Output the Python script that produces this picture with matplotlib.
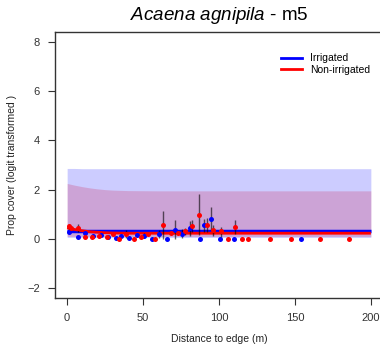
import numpy as np
import matplotlib
matplotlib.use("Agg")
import matplotlib.pyplot as plt

plt.rcParams["font.family"] = ["Liberation Sans", "DejaVu Sans"]
plt.rcParams["mathtext.fontset"] = "custom"
plt.rcParams["mathtext.it"] = "Liberation Sans:italic"
plt.rcParams["mathtext.rm"] = "Liberation Sans"

# observed means (Irrigated)
irr_x = [1.5, 7, 12, 17, 22, 27, 32, 35.6, 41, 45.7, 50.6, 55.8, 60.7, 65.8,
         70.9, 75.8, 80.8, 87.2, 90.4, 95, 100.7, 109.6, 153.7]
irr_y = [0.30, 0.08, 0.24, 0.12, 0.16, 0.08, 0.02, 0.10, 0.04, 0.16, 0.13, 0.0,
         0.20, 0.0, 0.38, 0.20, 0.46, 0.0, 0.56, 0.82, 0.0, 0.0, 0.0]
irr_lo = [0.20, 0.08, 0.24, 0.12, 0.16, 0.08, 0.02, 0.10, 0.04, 0.16, 0.05, 0.0,
          0.05, 0.0, 0.0, 0.05, 0.10, 0.0, 0.30, 0.35, 0.0, 0.0, 0.0]
irr_hi = [0.45, 0.08, 0.24, 0.12, 0.16, 0.08, 0.02, 0.10, 0.04, 0.16, 0.22, 0.0,
          0.35, 0.0, 0.77, 0.40, 0.74, 0.0, 0.82, 1.30, 0.0, 0.0, 0.0]

# observed means (Non-irrigated)
non_x = [1, 2.5, 7, 11.7, 16.5, 21.3, 26, 30.4, 34, 39, 44.2, 48.8, 53.2, 58,
         63.2, 68.7, 72.7, 77.6, 82.4, 86.5, 92.2, 96.3, 101, 105.6, 110.6,
         114.9, 119.3, 133.4, 147.7, 166.6, 185.6]
non_y = [0.52, 0.46, 0.43, 0.08, 0.08, 0.12, 0.08, 0.20, 0.0, 0.20, 0.0, 0.08,
         0.20, 0.0, 0.56, 0.24, 0.24, 0.32, 0.51, 0.99, 0.56, 0.36, 0.32, 0.0,
         0.49, 0.0, 0.0, 0.0, 0.0, 0.0, 0.0]
non_lo = [0.40, 0.46, 0.30, 0.08, 0.08, 0.12, 0.08, 0.20, 0.0, 0.05, 0.0, 0.08,
          0.20, 0.0, 0.0, 0.24, 0.24, 0.15, 0.30, 0.17, 0.30, 0.10, 0.05, 0.0,
          0.20, 0.0, 0.0, 0.0, 0.0, 0.0, 0.0]
non_hi = [0.62, 0.46, 0.62, 0.08, 0.08, 0.12, 0.08, 0.20, 0.0, 0.35, 0.0, 0.08,
          0.20, 0.0, 1.12, 0.24, 0.24, 0.45, 0.75, 1.83, 0.84, 0.55, 0.50, 0.0,
          0.75, 0.0, 0.0, 0.0, 0.0, 0.0, 0.0]

# fitted curves and confidence bands
fit_x = [0, 5, 10, 15, 20, 25, 30, 40, 60, 100, 150, 200]
irr_fit = [0.31, 0.31, 0.31, 0.31, 0.31, 0.31, 0.31, 0.31, 0.31, 0.31, 0.31, 0.31]
irr_band_lo = [0.06, 0.06, 0.06, 0.06, 0.06, 0.06, 0.06, 0.06, 0.06, 0.06, 0.06, 0.06]
irr_band_hi = [2.86, 2.86, 2.85, 2.85, 2.85, 2.85, 2.85, 2.85, 2.85, 2.86, 2.85, 2.85]
non_fit = [0.45, 0.38, 0.33, 0.29, 0.27, 0.25, 0.24, 0.23, 0.23, 0.23, 0.23, 0.23]
non_band_lo = [0.10, 0.10, 0.10, 0.10, 0.10, 0.10, 0.10, 0.10, 0.10, 0.10, 0.10, 0.10]
non_band_hi = [2.25, 2.18, 2.12, 2.07, 2.03, 2.00, 1.98, 1.96, 1.95, 1.95, 1.95, 1.95]

fig = plt.figure(figsize=(3.8, 3.56), dpi=100)
ax = fig.add_axes([55 / 380, 58 / 356, 328 / 380, 266 / 356])

ax.fill_between(fit_x, non_band_lo, non_band_hi, color="red", alpha=0.2, lw=0)
ax.fill_between(fit_x, irr_band_lo, irr_band_hi, color="blue", alpha=0.2, lw=0)

ax.plot(fit_x, irr_fit, color="blue", lw=2.5, solid_capstyle="butt")
ax.plot(fit_x, non_fit, color="red", lw=2.0, solid_capstyle="butt")

ax.vlines(irr_x, irr_lo, irr_hi, color="black", alpha=0.6, lw=1)
ax.vlines(non_x, non_lo, non_hi, color="black", alpha=0.6, lw=1)

ax.plot(irr_x, irr_y, "o", color="blue", ms=3.6, mec="none")
ax.plot(non_x, non_y, "o", color="red", ms=3.6, mec="none")

ax.set_xlim(-8, 208)
ax.set_ylim(-2.4, 8.4)
ax.set_xticks([0, 50, 100, 150, 200])
ax.set_yticks([-2, 0, 2, 4, 6, 8])
ax.tick_params(direction="out", length=5, width=0.8, labelsize=8,
               colors="#333333", pad=6)
for side in ["left", "bottom", "top"]:
    ax.spines[side].set_color("#333333")
    ax.spines[side].set_linewidth(1)
ax.spines["right"].set_visible(False)

ax.set_xlabel("Distance to edge (m)", fontsize=7.5, color="#222222", labelpad=8)
ax.set_ylabel("Prop cover (logit transformed )", fontsize=7.5, color="#222222",
              labelpad=7)

fig.text(219 / 380, 1 - 15 / 356, r"$\mathit{Acaena\ agnipila}$" + " - m5",
         ha="center", va="center", fontsize=13.5)

ax.legend(handles=[plt.Line2D([], [], color="blue", lw=2),
                   plt.Line2D([], [], color="red", lw=2)],
          labels=["Irrigated", "Non-irrigated"], loc="upper left",
          bbox_to_anchor=(0.66, 0.955), frameon=False, fontsize=7.5,
          handlelength=2.0, handletextpad=0.8, labelspacing=0.15)

fig.savefig("out.png", dpi=100)
